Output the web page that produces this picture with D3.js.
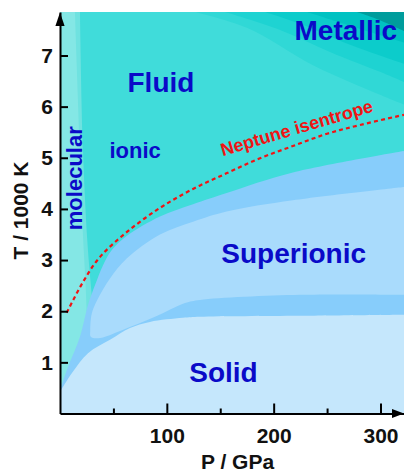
<!DOCTYPE html>
<html><head><meta charset="utf-8">
<script src="https://cdn.jsdelivr.net/npm/d3@7"></script>
<style>
html,body{margin:0;padding:0;background:#fff;}
svg{display:block;font-family:"Liberation Sans",Arial,Helvetica,sans-serif;font-weight:bold;}
</style></head>
<body><svg id="c" width="404" height="474"></svg>
<script>
// ---- data (P in GPa, T in 1000 K) ----
const xTicks = [100, 200, 300];
const xMinorTicks = [50, 150, 250];
const yTicks = [1, 2, 3, 4, 5, 6, 7];
const phaseNames = ["Metallic", "Fluid", "ionic", "molecular", "Superionic", "Solid"];
const isentropeName = "Neptune isentrope";
const xTitle = "P / GPa";
const yTitle = "T / 1000 K";

const metallic1 = [[126.4,7.85],[175,7.54],[236.8,6.81],[299.5,6.23],[322,6.04]];
const metallic2 = [[154.5,7.85],[206,7.50],[252.7,7.07],[299.5,6.68],[322,6.48]];
const metallic3 = [[191.9,7.85],[224.7,7.62],[271.5,7.21],[322,6.84]];
const metallic4 = [[231.2,7.85],[271.5,7.58],[322,7.25]];
const metallic5 = [[278,7.85],[299.5,7.69],[322,7.48]];

const molecularOuter = [[18.7,7.85],[21.5,5.15],[25.5,3.4],[28.5,2.6],[31,2.0],[34,1.0],[36,0.3]];
const molecularInner = [[14,7.85],[18,5.5],[21.5,3.49],[24,2.5],[25.5,1.6],[26.5,0.5]];

const superionicOuter = [[0,0.46],[7.5,0.91],[18.7,1.50],[26.2,2.12],[32.8,2.51],[40.3,2.90],[48.7,3.20],[62.4,3.47],[93.6,3.85],[124.5,4.09],[156,4.31],[218,4.71],[322,5.13]];
const superionicUpper = [[322,4.43],[218,4.17],[156,3.95],[124.5,3.75],[93.6,3.50],[62.4,3.03],[46.8,2.64],[34.4,2.20],[29.7,1.95],[28.3,1.62],[28.8,1.50]];
const superionicLower = [[35.6,1.47],[58,1.63],[88.9,1.89],[117,2.16],[131,2.22],[224.7,2.32],[322,2.32]];
const solidTop = [[0,0.42],[11.2,0.79],[26.2,1.18],[46.8,1.44],[65.5,1.67],[84.2,1.79],[115,1.87],[131,1.89],[224.7,1.91],[322,1.93]];

const neptuneIsentrope = [[6.3,1.97],[21.5,2.57],[37.4,3.06],[62.7,3.55],[93.6,4.02],[124.5,4.39],[156.3,4.70],[187.2,4.99],[218,5.23],[250,5.47],[280.8,5.64],[322,5.84]];

// ---- scales ----
const x = d3.scaleLinear().domain([0, 322]).range([60, 404]);
const y = d3.scaleLinear().domain([0, 7.85]).range([413.5, 12]);
const svg = d3.select("#c");

const curve = d3.line().x(d => x(d[0])).y(d => y(d[1])).curve(d3.curveCatmullRom.alpha(0.5));
function region(curvePts, extra) {
  return curve(curvePts) + extra.map(p => "L" + x(p[0]) + "," + y(p[1])).join("") + "Z";
}

const g = svg.append("g");
// ionic fluid background
g.append("rect").attr("x", x(0)).attr("y", y(7.85)).attr("width", x(322) - x(0)).attr("height", y(0) - y(7.85)).attr("fill", "#40dcda");

// metallic bands
const metColors = ["#30d8d6", "#1ed3d2", "#0ccccb", "#00c2c2", "#009c9c"];
[metallic1, metallic2, metallic3, metallic4, metallic5].forEach((b, i) => {
  g.append("path").attr("d", region(b, [[322, 7.85]])).attr("fill", metColors[i]);
});

// molecular fluid strips
g.append("path").attr("d", region(molecularOuter, [[0,0],[0,7.85]])).attr("fill", "#6fe2e0");
g.append("path").attr("d", region(molecularInner, [[0,0],[0,7.85]])).attr("fill", "#84e7e5");

// superionic (dark band), inner light superionic, solid
g.append("path").attr("d", region(superionicOuter, [[322,0],[0,0]])).attr("fill", "#87cdfb");
g.append("path").attr("d", curve(superionicUpper.concat(superionicLower)) + "Z").attr("fill", "#a9dbfc");
g.append("path").attr("d", region(solidTop, [[322,0],[0,0]])).attr("fill", "#c5e7fc");

// Neptune isentrope
g.append("path").attr("d", curve(neptuneIsentrope))
  .attr("fill", "none").attr("stroke", "#f01414").attr("stroke-width", 2.2).attr("stroke-dasharray", "4,3.2");

// labels
const blue = "#0a0ac8";
const lab = svg.append("g").attr("fill", blue);
lab.append("text").attr("x", x(219.5)).attr("y", y(7.30)).attr("font-size", 28).text(phaseNames[0]);
lab.append("text").attr("x", x(63.2)).attr("y", y(6.29)).attr("font-size", 28).text(phaseNames[1]);
lab.append("text").attr("x", x(46.3)).attr("y", y(4.99)).attr("font-size", 22).text(phaseNames[2]);
lab.append("text").attr("transform", `translate(${x(20.6)},${y(4.60)}) rotate(-90)`).attr("text-anchor", "middle").attr("font-size", 22).text(phaseNames[3]);
lab.append("text").attr("x", x(151)).attr("y", y(2.94)).attr("font-size", 28).text(phaseNames[4]);
lab.append("text").attr("x", x(121)).attr("y", y(0.62)).attr("font-size", 28).text(phaseNames[5]);
svg.append("text").attr("transform", `translate(${x(152.3)},${y(5.03)}) rotate(-16.5)`).attr("font-size", 18).attr("fill", "#f01414").text(isentropeName);

// axes
const ax = svg.append("g").attr("transform", `translate(0,${y(0)})`)
  .call(d3.axisBottom(x).tickValues(xTicks).tickSizeInner(-10).tickSizeOuter(0).tickPadding(14.5).tickFormat(d3.format("d")));
const axm = svg.append("g").attr("transform", `translate(0,${y(0)})`)
  .call(d3.axisBottom(x).tickValues(xMinorTicks).tickSizeInner(-5).tickSizeOuter(0).tickFormat(""));
axm.select(".domain").remove();
const ay = svg.append("g").attr("transform", `translate(${x(0)},0)`)
  .call(d3.axisLeft(y).tickValues(yTicks).tickSizeInner(-8).tickSizeOuter(0).tickPadding(7).tickFormat(d3.format("d")));
[ax, axm, ay].forEach(a => {
  a.selectAll(".domain").attr("stroke", "#000").attr("stroke-width", 2);
  a.selectAll(".tick line").attr("stroke", "#000").attr("stroke-width", 2);
  a.selectAll("text").attr("font-size", 21).attr("font-family", "'Liberation Sans',Arial,sans-serif").attr("font-weight", "bold").attr("fill", "#111");
});
// arrow heads
svg.append("path").attr("d", `M${x(0)},${y(7.85) + 0.5}L${x(0) - 4.6},${y(7.85) + 14}L${x(0) + 4.6},${y(7.85) + 14}Z`).attr("fill", "#000");
svg.append("path").attr("d", `M${x(322)},${y(0)}L${x(322) - 12},${y(0) - 4.6}L${x(322) - 12},${y(0) + 4.6}Z`).attr("fill", "#000");

// axis titles
svg.append("text").attr("x", 237.5).attr("y", 469).attr("text-anchor", "middle").attr("font-size", 21).attr("fill", "#111").text(xTitle);
svg.append("text").attr("transform", "translate(27.5,210.5) rotate(-90)").attr("text-anchor", "middle").attr("font-size", 21).attr("fill", "#111").text(yTitle);
</script></body></html>
